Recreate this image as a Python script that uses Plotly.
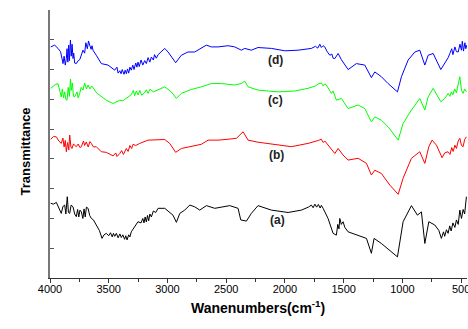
import plotly.graph_objects as go

# (a) black
wn_a = [3994, 3970, 3946, 3925, 3904, 3890, 3875, 3865, 3853, 3843, 3832, 3820, 3804, 3790, 3776, 3765, 3755,
        3745, 3733, 3720, 3710, 3700, 3690, 3676, 3662, 3648, 3630, 3606, 3580, 3557, 3540, 3521, 3500, 3485,
        3470, 3460, 3449, 3435, 3420, 3405, 3393, 3380, 3365, 3355, 3344, 3330, 3320, 3308, 3280, 3251, 3225,
        3210, 3200, 3190, 3180, 3170, 3160, 3150, 3137, 3120, 3100, 3080, 3023, 2981, 2953, 2924, 2895, 2853,
        2810, 2768, 2725, 2669, 2597, 2527, 2470, 2399, 2376, 2328, 2286, 2229, 2115, 1973, 1860, 1800, 1775,
        1760, 1745, 1730, 1715, 1700, 1690, 1675, 1633, 1590, 1562, 1550, 1540, 1533, 1520, 1505, 1490, 1462,
        1377, 1306, 1264, 1241, 1179, 1107, 1042, 994, 923, 872, 838, 809, 775, 724, 690, 668, 650, 640, 625,
        611, 597, 585, 570, 553, 540, 525, 511, 497, 483, 470, 460, 455]
t_a = [2.51, 2.48, 2.54, 2.35, 2.17, 2.40, 2.45, 2.15, 2.73, 2.20, 2.17, 2.45, 2.39, 2.15, 2.06, 2.30, 2.05,
       2.28, 2.22, 2.00, 2.32, 2.05, 2.38, 2.34, 2.10, 2.00, 1.95, 1.78, 1.60, 1.33, 1.45, 1.50, 1.42, 1.52,
       1.38, 1.50, 1.40, 1.50, 1.35, 1.48, 1.36, 1.45, 1.30, 1.42, 1.28, 1.45, 1.38, 1.55, 1.70, 1.89, 1.85,
       2.00, 1.85, 2.05, 1.88, 2.10, 1.92, 2.15, 2.05, 2.25, 2.20, 2.34, 2.34, 2.22, 2.11, 1.87, 2.17, 2.28,
       2.45, 2.39, 2.28, 2.43, 2.34, 2.39, 2.43, 2.34, 1.95, 1.91, 2.17, 2.43, 2.28, 2.20, 2.28, 2.38, 2.45,
       2.36, 2.48, 2.38, 2.47, 2.35, 2.44, 2.34, 2.00, 1.50, 1.44, 1.80, 1.65, 2.00, 1.80, 1.89, 1.70, 1.55,
       1.44, 1.33, 0.83, 1.33, 1.16, 0.94, 0.71, 1.89, 2.43, 2.11, 2.22, 1.16, 1.89, 1.78, 1.60, 1.33, 1.55, 1.40, 1.62,
       1.50, 1.75, 1.58, 1.85, 1.70, 1.95, 1.80, 2.28, 2.00, 2.30, 2.15, 2.60, 2.73]

# (b) red
wn_b = [3994, 3970, 3946, 3925, 3904, 3890, 3880, 3870, 3861, 3850, 3840, 3832, 3822, 3813, 3800, 3776, 3760,
        3745, 3733, 3715, 3705, 3691, 3675, 3660, 3648, 3630, 3606, 3563, 3521, 3490, 3463, 3440, 3430, 3406,
        3390, 3375, 3350, 3335, 3320, 3305, 3293, 3270, 3236, 3165, 3095, 3023, 2981, 2930, 2882, 2797, 2712,
        2654, 2569, 2484, 2413, 2356, 2314, 2229, 2086, 1945, 1803, 1740, 1715, 1690, 1675, 1660, 1633, 1575,
        1547, 1505, 1462, 1377, 1306, 1264, 1235, 1179, 1107, 1036, 994, 923, 852, 809, 775, 747, 710, 662,
        640, 611, 595, 580, 568, 553, 540, 525, 511, 497, 483, 470, 455]
t_b = [4.66, 4.75, 4.74, 4.60, 4.52, 4.70, 4.40, 4.62, 4.24, 4.55, 4.30, 4.80, 4.40, 4.35, 4.50, 4.41, 4.50,
       4.38, 4.41, 4.60, 4.45, 4.57, 4.40, 4.58, 4.52, 4.40, 4.41, 4.24, 4.22, 4.15, 4.10, 4.20, 4.08, 4.18,
       4.28, 4.15, 4.35, 4.25, 4.45, 4.35, 4.49, 4.45, 4.52, 4.63, 4.63, 4.65, 4.52, 4.22, 4.35, 4.41, 4.49,
       4.63, 4.63, 4.66, 4.69, 4.91, 4.63, 4.56, 4.49, 4.41, 4.52, 4.58, 4.62, 4.66, 4.55, 4.60, 4.46, 4.18,
       4.35, 4.13, 3.96, 4.02, 3.85, 3.46, 3.62, 3.51, 3.12, 2.81, 3.35, 4.02, 4.24, 3.85, 4.41, 4.63, 4.46, 4.04,
       4.20, 4.24, 4.15, 4.38, 4.25, 4.46, 4.35, 4.60, 4.69, 4.45, 4.41, 4.65, 4.74]

# (c) green
wn_c = [3994, 3960, 3932, 3915, 3904, 3895, 3885, 3875, 3865, 3855, 3845, 3835, 3826, 3819, 3810, 3800, 3790,
        3770, 3760, 3747, 3735, 3719, 3705, 3690, 3676, 3660, 3645, 3619, 3600, 3577, 3550, 3521, 3463, 3406,
        3380, 3336, 3310, 3290, 3280, 3265, 3250, 3235, 3220, 3194, 3180, 3165, 3150, 3120, 3080, 3023, 2967,
        2924, 2882, 2797, 2712, 2626, 2541, 2427, 2371, 2342, 2314, 2229, 2058, 1916, 1803, 1740, 1715, 1690,
        1675, 1660, 1647, 1604, 1590, 1575, 1562, 1519, 1462, 1377, 1320, 1264, 1235, 1179, 1122, 1036, 994,
        923, 852, 809, 781, 738, 673, 639, 610, 596, 583, 570, 555, 540, 525, 511, 497, 483, 470, 455]
t_c = [6.37, 6.48, 6.53, 6.30, 6.08, 6.35, 6.05, 6.25, 6.00, 5.97, 6.40, 6.10, 6.68, 6.30, 6.55, 6.10, 6.08,
       6.25, 6.05, 6.20, 6.40, 6.31, 6.55, 6.35, 6.48, 6.35, 6.45, 6.31, 6.20, 6.14, 6.05, 5.97, 5.86, 5.97,
       5.95, 6.08, 6.15, 6.30, 6.12, 6.28, 6.15, 6.30, 6.14, 6.22, 6.32, 6.20, 6.34, 6.25, 6.31, 6.42, 6.25,
       6.03, 6.20, 6.33, 6.42, 6.53, 6.53, 6.48, 6.53, 6.61, 6.42, 6.31, 6.25, 6.28, 6.37, 6.45, 6.52, 6.55,
       6.45, 6.52, 6.48, 6.20, 6.28, 6.10, 5.97, 6.03, 5.69, 5.81, 5.69, 5.24, 5.41, 5.30, 5.08, 4.63, 5.19,
       5.64, 6.03, 5.64, 6.08, 6.37, 5.92, 6.03, 6.20, 6.10, 6.25, 6.15, 6.35, 6.22, 6.48, 6.76, 6.30, 6.20, 6.35, 6.25]

# (d) blue
wn_d = [3994, 3960, 3932, 3910, 3889, 3880, 3870, 3861, 3855, 3848, 3841, 3835, 3826, 3819, 3812, 3804, 3798,
        3790, 3776, 3760, 3747, 3730, 3719, 3705, 3695, 3682, 3672, 3662, 3650, 3642, 3634, 3606, 3563, 3506,
        3470, 3449, 3430, 3420, 3406, 3395, 3385, 3370, 3360, 3350, 3340, 3330, 3320, 3308, 3295, 3285, 3270,
        3260, 3251, 3240, 3225, 3210, 3194, 3180, 3165, 3150, 3137, 3120, 3110, 3095, 3080, 3050, 3023, 2995,
        2967, 2930, 2882, 2825, 2768, 2712, 2669, 2626, 2569, 2484, 2427, 2371, 2342, 2286, 2229, 2115, 2001,
        1888, 1775, 1740, 1720, 1703, 1690, 1675, 1661, 1640, 1618, 1600, 1590, 1575, 1547, 1519, 1462, 1392,
        1320, 1264, 1235, 1179, 1122, 1042, 1008, 951, 894, 852, 838, 809, 781, 738, 673, 639, 610, 596, 580,
        570, 553, 540, 525, 510, 497, 490, 480, 468, 460, 452]
t_d = [7.76, 7.82, 7.71, 7.60, 7.20, 7.45, 7.15, 7.37, 7.70, 7.25, 7.82, 7.30, 7.99, 7.45, 7.85, 7.37, 7.55,
       7.22, 7.20, 7.30, 7.33, 7.50, 7.65, 7.55, 7.90, 7.70, 7.96, 7.82, 7.68, 7.80, 7.65, 7.48, 7.20, 7.15,
       7.05, 6.98, 7.08, 6.88, 6.96, 6.86, 7.00, 6.84, 6.98, 6.86, 7.02, 6.88, 7.08, 6.98, 7.15, 7.00, 7.22,
       7.08, 7.25, 7.10, 7.32, 7.15, 7.30, 7.20, 7.40, 7.25, 7.42, 7.32, 7.50, 7.38, 7.50, 7.60, 7.71, 7.59,
       7.43, 7.23, 7.48, 7.59, 7.59, 7.71, 7.82, 7.76, 7.76, 7.80, 7.76, 7.65, 7.71, 7.65, 7.74, 7.71, 7.63,
       7.65, 7.71, 7.78, 7.72, 7.85, 7.74, 7.80, 7.76, 7.60, 7.48, 7.52, 7.38, 7.37, 7.54, 7.33, 7.00, 7.20,
       7.15, 6.73, 6.92, 6.76, 6.53, 6.25, 6.76, 7.32, 7.59, 7.65, 7.48, 7.15, 7.48, 7.54, 7.00, 7.20, 7.40, 7.54, 7.70,
       7.50, 7.76, 7.60, 7.59, 7.85, 7.65, 7.95, 7.62, 7.90, 7.70, 7.82]

labels = ["(a)", "(b)", "(c)", "(d)"]
label_wn = [2060, 2075, 2080, 2084]
label_t = [1.95, 4.13, 5.97, 7.32]

series = [(wn_a, t_a, "black"), (wn_b, t_b, "red"), (wn_c, t_c, "#00ff00"), (wn_d, t_d, "blue")]

fig = go.Figure()
for wn, t, col in series:
    fig.add_trace(go.Scatter(x=wn, y=t, mode="lines", line=dict(color=col, width=1), showlegend=False))

for lab, lx, ly in zip(labels, label_wn, label_t):
    fig.add_annotation(x=lx, y=ly, text="<b>%s</b>" % lab, showarrow=False,
                       font=dict(size=12, color="#222", family="Liberation Sans, Arial"))

fig.add_annotation(xref="paper", yref="paper", x=-0.0815, y=0.47, text="<b>Transmittance</b>",
                   textangle=-90, showarrow=False, font=dict(size=13, color="black"))
fig.add_annotation(xref="paper", yref="paper", x=0.498, y=-0.149, text="<b>Wanenumbers(cm<sup>-1</sup>)</b>",
                   showarrow=False, font=dict(size=14, color="black"))

fig.update_layout(
    width=468, height=329,
    margin=dict(l=50, r=1, t=10, b=51, autoexpand=False),
    paper_bgcolor="white", plot_bgcolor="white",
    font=dict(family="Liberation Sans, Arial", color="black"),
)
fig.update_xaxes(range=[4000, 450], tickvals=[4000, 3500, 3000, 2500, 2000, 1500, 1000, 500],
                 ticks="outside", ticklen=4, tickcolor="#333", showgrid=False, zeroline=False,
                 showline=True, linecolor="#333", linewidth=1, automargin=False,
                 minor=dict(tickvals=[3750, 3250, 2750, 2250, 1750, 1250, 750], ticks="outside", ticklen=3, tickcolor="#333"),
                 tickfont=dict(size=11), ticklabelstandoff=-3, ticklabeloverflow="allow")
fig.update_yaxes(range=[0, 9], tickvals=list(range(10)), showticklabels=False, automargin=False,
                 ticks="inside", ticklen=4, tickcolor="#555", showgrid=False, zeroline=False,
                 showline=True, linecolor="#777", linewidth=2)

fig.write_html("out.html", config={"displayModeBar": False},
               post_script="document.body.style.margin='0px';document.body.style.overflow='hidden';")
